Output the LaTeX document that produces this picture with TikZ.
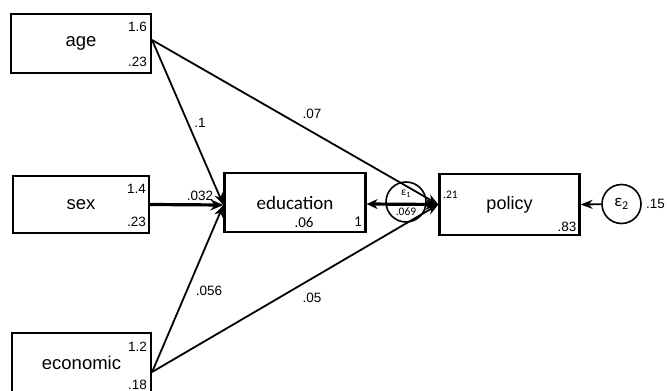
\documentclass[tikz,border=0pt]{standalone}
\usepackage{fontspec}
\setmainfont{Liberation Sans}
\newfontfamily\carl{Carlito}
\usetikzlibrary{arrows.meta}
\begin{document}
\begin{tikzpicture}[x=1pt,y=-1pt,
  box/.style={draw,line width=2.2pt,minimum width=140pt,minimum height=59pt,inner sep=0pt,font=\fontsize{18.5}{18.5}\selectfont},
  edbox/.style={box,font=\carl\fontsize{19}{19}\selectfont},
  errc/.style={draw,circle,line width=1.6pt,minimum size=40pt,inner sep=0pt},
  pth/.style={line width=1.8pt,-{Stealth[length=12pt,width=9pt]}},
  thk/.style={line width=3.2pt,-{Stealth[length=13pt,width=11pt]}},
  num/.style={font=\fontsize{13.5}{13.5}\selectfont,inner sep=0pt},
  snum/.style={font=\carl\fontsize{11.5}{11.5}\selectfont,inner sep=0pt}]
\clip (0,0) rectangle (667,391);
\fill[white] (0,0) rectangle (667,391);
% boxes
\node[box] (age) at (81,43.5) {age};
\node[box,minimum width=136pt,minimum height=57pt] (sex) at (81,204.5) {sex};
\node[box,minimum width=139pt] (eco) at (81.5,362.5) {economic};
\node[edbox,minimum width=141pt] (edu) at (295,202.5) {education};
\node[box,minimum height=61pt,font=\fontsize{18}{18}\selectfont] (pol) at (509.5,204.5) {policy};
\node[errc] (e1) at (406,202) {};
\node[errc,minimum size=39pt] (e2) at (621.5,204) {\carl\fontsize{17}{17}\selectfont ε\textsubscript{2}};
% paths
\coordinate (ageout) at ([yshift=3.5pt]age.east);
\coordinate (ecoout) at ([yshift=-9.5pt]eco.east);
\draw[pth] (ageout) -- ([yshift=-2.5pt]edu.west);
\draw[pth] (ageout) -- (pol.west);
\draw[thk] (sex.east) -- ([yshift=-2.5pt]edu.west);
\draw[pth] (ecoout) -- ([yshift=-2.5pt]edu.west);
\draw[pth] (ecoout) -- (pol.west);
\draw[line width=3.2pt,{Stealth[length=11pt,width=10pt]}-{Stealth[length=13pt,width=11pt]}] ([yshift=-1.5pt]edu.east) -- (pol.west);
\draw[pth] (e2) -- (pol.east);
% inner numbers
\node[num,anchor=east] (a1) at (147,27) {1.6};
\node[num,anchor=east] (a2) at (147,62) {.23};
\node[num,anchor=east] (s1) at (146,189) {1.4};
\node[num,anchor=east] (s2) at (146,222) {.23};
\node[num,anchor=east] (c1) at (147,347) {1.2};
\node[num,anchor=east] (c2) at (147,385) {.18};
\node[font=\carl\fontsize{15}{15}\selectfont,inner sep=0pt] (d1) at (304,222) {.06};
\node[font=\carl\fontsize{15}{15}\selectfont,inner sep=0pt] (d2) at (358,222) {1};
\node[snum,anchor=west] (p1) at (443,195) {.21};
\node[num] (p2) at (567,227) {.83};
\node[num,anchor=east] (q1) at (665,204) {.15};
\node[snum] (t1) at (406,194) {ε\textsubscript{1}};
\node[snum] (t2) at (406,211.5) {.069};
% path labels
\node[num] (l1) at (200,123) {.1};
\node[num] (l2) at (312,114) {.07};
\node[num] (l3) at (200,196) {.032};
\node[num] (l4) at (209,291) {.056};
\node[num] (l5) at (312,298) {.05};
\end{tikzpicture}
\end{document}
